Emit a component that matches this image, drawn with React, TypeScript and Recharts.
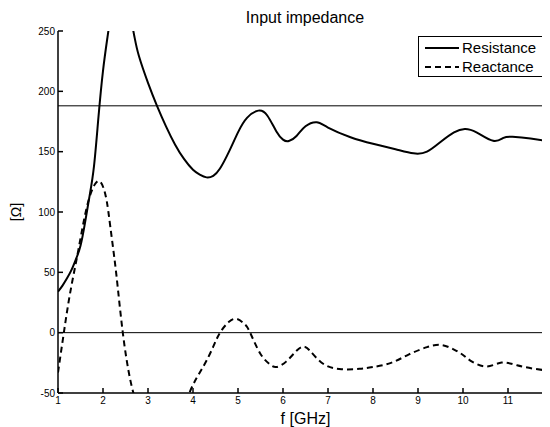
import React from 'react';
import { LineChart, Line, XAxis, YAxis, ReferenceLine, Legend } from 'recharts';

// Resistance curve (f in GHz, value in Ohm)
const resistanceFreq = [1.0, 1.1, 1.2, 1.3, 1.4, 1.5, 1.6, 1.7, 1.8, 1.9, 2.0, 2.1, 2.2, 2.3, 2.4, 2.5, 2.6, 2.7, 2.8, 3.0, 3.2, 3.4, 3.6, 3.8, 4.0, 4.15, 4.3, 4.45, 4.6, 4.8, 5.0, 5.2, 5.45, 5.65, 5.85, 6.0, 6.13, 6.3, 6.5, 6.75, 7.0, 7.5, 8.0, 8.5, 8.9, 9.2, 9.5, 9.8, 10.04, 10.3, 10.67, 10.9, 11.1, 11.5, 12.0];
const resistanceValues = [34, 39, 45, 52, 61, 72, 91, 113, 138, 179, 217, 245, 270, 288, 293, 285, 265, 245, 229, 207, 188, 171, 156, 144, 135, 131, 128.7, 130, 136, 150, 166, 178, 184, 180, 167, 160, 158.8, 163, 171, 174.3, 170, 162, 156.5, 152, 148.6, 150, 158, 166, 168.8, 166, 159, 161.5, 162.4, 161, 158];

// Reactance curve
const reactanceFreq = [1.0, 1.13, 1.27, 1.45, 1.64, 1.82, 1.95, 2.05, 2.12, 2.2, 2.3, 2.44, 2.6, 2.75, 2.9, 3.1, 3.3, 3.5, 3.7, 3.93, 4.23, 4.45, 4.6, 4.8, 4.98, 5.15, 5.27, 5.49, 5.7, 5.85, 6.07, 6.3, 6.45, 6.6, 6.9, 7.3, 7.7, 8.0, 8.4, 8.8, 9.2, 9.52, 9.8, 10.0, 10.2, 10.53, 10.86, 11.2, 11.6, 12.0];
const reactanceValues = [-33, 0, 33, 68, 104, 123, 124.6, 115, 100, 77, 47, 0, -38, -60, -80, -98, -104, -96, -76, -49, -28, -11.6, 0, 9, 11.3, 7, 0, -17, -26, -28.5, -24, -15, -11.6, -15, -26, -30.3, -30, -28.5, -25, -18, -12, -10.2, -14, -18.5, -24, -28, -24.8, -27, -30, -32];

const xTicks = [1, 2, 3, 4, 5, 6, 7, 8, 9, 10, 11, 12];
const yTicks = [-50, 0, 50, 100, 150, 200, 250];
const guideLevels = [0, 188];
const seriesNames = ['Resistance', 'Reactance'];

const resistanceData = resistanceFreq.map((f, i) => ({ f, v: resistanceValues[i] }));
const reactanceData = reactanceFreq.map((f, i) => ({ f, v: reactanceValues[i] }));

const FONT = '"Liberation Sans", Arial, Helvetica, sans-serif';

const LegendBox = () => (
  <div
    style={{
      position: 'relative',
      width: 130,
      height: 41,
      border: '1px solid #000',
      background: '#fff',
      fontFamily: FONT,
      fontSize: 15,
      lineHeight: '17px',
      color: '#000',
      boxSizing: 'border-box',
    }}
  >
    {seriesNames.map((name, i) => (
      <React.Fragment key={name}>
        <svg
          width={40}
          height={10}
          style={{ position: 'absolute', left: 3, top: 6 + i * 19 }}
        >
          <line
            x1={3}
            y1={5}
            x2={37}
            y2={5}
            stroke="#000"
            strokeWidth={2}
            strokeDasharray={i === 1 ? '6 4' : undefined}
          />
        </svg>
        <span
          style={{ position: 'absolute', left: 43, top: 2 + i * 19, whiteSpace: 'nowrap' }}
        >
          {name}
        </span>
      </React.Fragment>
    ))}
  </div>
);

export default function App() {
  return (
    <div style={{ position: 'relative', width: 560, height: 419, fontFamily: FONT }}>
      <div
        style={{
          position: 'absolute',
          left: 197,
          top: 1,
          width: 200,
          textAlign: 'center',
          fontSize: 16,
          lineHeight: '18px',
          color: '#000',
        }}
      >
        Input impedance
      </div>
      <LineChart width={560} height={419} margin={{ top: 23, right: 15, bottom: 0, left: 0 }}>
        <XAxis
          xAxisId="bottom"
          type="number"
          dataKey="f"
          domain={[1, 12]}
          ticks={xTicks}
          allowDataOverflow
          orientation="bottom"
          height={34}
          stroke="#000"
          strokeWidth={1.5}
          tickSize={-5}
          tickMargin={9}
          tick={{ fontSize: 10, fill: '#000', fontFamily: FONT }}
          label={{ value: 'f [GHz]', position: 'insideBottom', offset: 3, fontSize: 16, fill: '#000', fontFamily: FONT }}
        />
        <XAxis
          xAxisId="top"
          type="number"
          dataKey="f"
          domain={[1, 12]}
          ticks={xTicks}
          allowDataOverflow
          orientation="top"
          height={0}
          stroke="#000"
          strokeWidth={1.5}
          tickSize={-5}
          tick={false}
        />
        <YAxis
          yAxisId="left"
          type="number"
          domain={[-50, 250]}
          ticks={yTicks}
          allowDataOverflow
          orientation="left"
          width={50}
          stroke="#000"
          strokeWidth={1.5}
          tickSize={-5}
          tickMargin={8}
          tick={{ fontSize: 10, fill: '#000', fontFamily: FONT }}
          label={() => (
            <text
              x={8}
              y={204}
              transform="rotate(-90, 8, 204)"
              textAnchor="middle"
              dominantBaseline="central"
              fontSize={14}
              fill="#000"
              fontFamily={FONT}
            >
              [Ω]
            </text>
          )}
        />
        <YAxis
          yAxisId="right"
          type="number"
          domain={[-50, 250]}
          ticks={yTicks}
          allowDataOverflow
          orientation="right"
          width={0}
          stroke="#000"
          strokeWidth={1.5}
          tickSize={-5}
          tick={false}
        />
        {guideLevels.map((lvl) => (
          <ReferenceLine key={lvl} y={lvl} xAxisId="bottom" yAxisId="left" stroke="#000" strokeWidth={1} />
        ))}
        <Line
          name={seriesNames[0]}
          data={resistanceData}
          dataKey="v"
          xAxisId="bottom"
          yAxisId="left"
          type="natural"
          stroke="#000"
          strokeWidth={2}
          dot={false}
          isAnimationActive={false}
        />
        <Line
          name={seriesNames[1]}
          data={reactanceData}
          dataKey="v"
          xAxisId="bottom"
          yAxisId="left"
          type="natural"
          stroke="#000"
          strokeWidth={2}
          strokeDasharray="6 4"
          dot={false}
          isAnimationActive={false}
        />
        <Legend
          layout="vertical"
          align="center"
          verticalAlign="middle"
          content={() => <LegendBox />}
          wrapperStyle={{ position: 'absolute', left: 410, top: 28, width: 130, height: 41 }}
        />
      </LineChart>
    </div>
  );
}
